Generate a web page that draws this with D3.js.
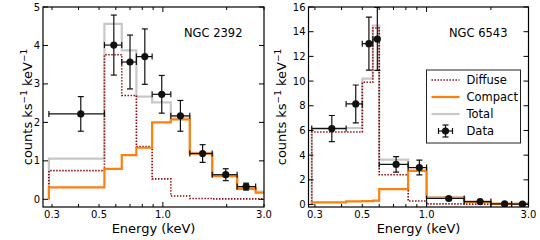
<html><head>
<title>NGC 2392 / NGC 6543 spectra</title>
<script src="https://d3js.org/d3.v7.min.js" charset="utf-8"></script>
<style>
body { margin: 0; background: white; font-family: "DejaVu Sans", sans-serif; }
.frame { fill: none; stroke: black; stroke-width: 1.2; }
.tick { stroke: black; stroke-width: 1; }
.ticklab { font-size: 10px; fill: black; }
.axlab { font-size: 13px; fill: black; }
</style>
</head>
<body>
<div id="chart"></div>
<script>
// NGC 2392 model bins (keV) and model values
var ngc2392_edges   = [0.29, 0.53, 0.64, 0.75, 0.89, 1.09, 1.34, 1.71, 2.24, 2.74, 3.3];
var ngc2392_total   = [1.06, 4.56, 3.87, 2.67, 2.52, 2.15, 1.21, 0.62, 0.30, 0.20];
var ngc2392_diffuse = [0.745, 3.76, 2.70, 1.37, 0.53, 0.085, 0.02, 0.01, 0.01, 0.01];
var ngc2392_compact = [0.31, 0.79, 1.15, 1.34, 2.00, 2.08, 1.19, 0.60, 0.27, 0.17];
// NGC 2392 data points
var ngc2392_x    = [0.41, 0.587, 0.70, 0.822, 0.988, 1.21, 1.54, 1.98, 2.47];
var ngc2392_xlo  = [0.29, 0.53, 0.64, 0.75, 0.89, 1.09, 1.34, 1.71, 2.24];
var ngc2392_xhi  = [0.53, 0.64, 0.75, 0.89, 1.09, 1.34, 1.71, 2.24, 2.74];
var ngc2392_y    = [2.22, 4.01, 3.57, 3.71, 2.73, 2.17, 1.19, 0.64, 0.33];
var ngc2392_yerr = [0.45, 0.78, 0.70, 0.72, 0.49, 0.40, 0.23, 0.155, 0.09];

// NGC 6543 model bins and values
var ngc6543_edges   = [0.29, 0.5, 0.56, 0.6, 0.82, 1.0, 1.5, 2.0, 3.3];
var ngc6543_total   = [6.2, 10.2, 14.5, 3.63, 2.95, 0.6, 0.25, 0.08];
var ngc6543_diffuse = [5.88, 9.9, 14.3, 2.41, 0.28, 0.05, 0.03, 0.02];
var ngc6543_cedges  = [0.29, 0.42, 0.5, 0.56, 0.6, 0.82, 1.0, 1.5, 2.0, 3.3];
var ngc6543_compact = [0.17, 0.25, 0.28, 0.32, 1.25, 2.72, 0.55, 0.2, 0.05];
// NGC 6543 data points
var ngc6543_x    = [0.36, 0.466, 0.537, 0.588, 0.72, 0.925, 1.27, 1.78, 2.32, 2.81];
var ngc6543_xlo  = [0.29, 0.42, 0.5, 0.56, 0.6, 0.82, 1.0, 1.5, 2.0, 2.5];
var ngc6543_xhi  = [0.42, 0.5, 0.56, 0.6, 0.82, 1.0, 1.5, 2.0, 2.5, 3.0];
var ngc6543_y    = [6.15, 8.15, 13.03, 13.41, 3.25, 3.0, 0.49, 0.24, 0.05, 0.03];
var ngc6543_yerr = [1.06, 1.53, 2.15, 2.55, 0.63, 0.6, 0.1, 0.07, 0.04, 0.03];

// axis ticks
var x_minor = [0.3, 0.4, 0.5, 0.6, 0.7, 0.8, 0.9, 2.0, 3.0];
var x_major = [1.0];
var x_labels = [0.3, 0.5, 1.0, 3.0];
var y_ticks_2392 = [0, 1, 2, 3, 4, 5];
var y_ticks_6543 = [0, 2, 4, 6, 8, 10, 12, 14, 16];

var legend_names = ["Diffuse", "Compact", "Total", "Data"];

var col_diffuse = "#8b0000", col_compact = "#ff7f0e", col_total = "#c8c8c8", col_data = "#111";

var svg = d3.select("#chart").append("svg")
  .attr("width", 540).attr("height", 240);

// step histogram path from edges + values, starting/ending at 0
function stepLine(edges, vals, xS, yS) {
  var pts = [[xS(edges[0]), yS(0)]];
  for (var i = 0; i < vals.length; i++) {
    pts.push([xS(edges[i]), yS(vals[i])]);
    pts.push([xS(edges[i+1]), yS(vals[i])]);
  }
  pts.push([xS(edges[edges.length-1]), yS(0)]);
  return d3.line()(pts);
}

function errorbars(g, xS, yS, x, xlo, xhi, y, yerr) {
  var cap = 3;
  for (var i = 0; i < x.length; i++) {
    var px = xS(x[i]), py = yS(y[i]);
    var e = g.append("g").style("stroke", col_data).style("stroke-width", 1.2);
    e.append("line").attr("x1", xS(xlo[i])).attr("x2", xS(xhi[i])).attr("y1", py).attr("y2", py);
    e.append("line").attr("x1", xS(xlo[i])).attr("x2", xS(xlo[i])).attr("y1", py-cap).attr("y2", py+cap);
    e.append("line").attr("x1", xS(xhi[i])).attr("x2", xS(xhi[i])).attr("y1", py-cap).attr("y2", py+cap);
    var ylo = yS(y[i]-yerr[i]), yhi = yS(y[i]+yerr[i]);
    e.append("line").attr("x1", px).attr("x2", px).attr("y1", ylo).attr("y2", yhi);
    e.append("line").attr("x1", px-cap).attr("x2", px+cap).attr("y1", ylo).attr("y2", ylo);
    e.append("line").attr("x1", px-cap).attr("x2", px+cap).attr("y1", yhi).attr("y2", yhi);
    g.append("circle").attr("cx", px).attr("cy", py).attr("r", 3.6).style("fill", col_data);
  }
}

function drawPanel(p) {
  var w = p.width, h = 200;
  var xS = d3.scaleLog().domain(p.xdom).range([0, w]);
  var yS = d3.scaleLinear().domain(p.ydom).range([h, 0]);
  var g = svg.append("g").attr("transform", "translate(" + p.left + ",7)");

  g.append("clipPath").attr("id", "clip" + p.id)
    .append("rect").attr("width", w).attr("height", h);
  var plot = g.append("g").attr("clip-path", "url(#clip" + p.id + ")");

  plot.append("path").attr("d", stepLine(p.edges, p.total, xS, yS))
    .style("fill", "none").style("stroke", col_total).style("stroke-width", 2.2);
  plot.append("path").attr("d", stepLine(p.edges, p.diffuse, xS, yS))
    .style("fill", "none").style("stroke", col_diffuse).style("stroke-width", 1.6)
    .style("stroke-dasharray", "1.4,1.6");
  plot.append("path").attr("d", stepLine(p.cedges, p.compact, xS, yS))
    .style("fill", "none").style("stroke", col_compact).style("stroke-width", 2.2);
  errorbars(plot, xS, yS, p.x, p.xlo, p.xhi, p.y, p.yerr);

  g.append("rect").attr("class", "frame").attr("width", w).attr("height", h);

  // x ticks, inside, top and bottom
  x_minor.concat(x_major).forEach(function(t) {
    var len = x_major.indexOf(t) >= 0 ? 5 : 3;
    g.append("line").attr("class", "tick").attr("x1", xS(t)).attr("x2", xS(t)).attr("y1", h).attr("y2", h-len);
    g.append("line").attr("class", "tick").attr("x1", xS(t)).attr("x2", xS(t)).attr("y1", 0).attr("y2", len);
  });
  x_labels.forEach(function(t) {
    g.append("text").attr("class", "ticklab").attr("x", xS(t)).attr("y", h+11)
      .attr("text-anchor", "middle").text(d3.format(".1f")(t));
  });
  // y ticks, inside, left and right
  p.yticks.forEach(function(t) {
    g.append("line").attr("class", "tick").attr("x1", 0).attr("x2", 5).attr("y1", yS(t)).attr("y2", yS(t));
    g.append("line").attr("class", "tick").attr("x1", w).attr("x2", w-5).attr("y1", yS(t)).attr("y2", yS(t));
    g.append("text").attr("class", "ticklab").attr("x", -3).attr("y", yS(t)).attr("dy", "0.35em")
      .attr("text-anchor", "end").text(t);
  });

  g.append("text").attr("class", "axlab").attr("x", w/2).attr("y", 226)
    .attr("text-anchor", "middle").text("Energy (keV)");

  var yl = g.append("text").attr("class", "axlab")
    .attr("transform", "translate(" + p.ylabx + "," + (h/2) + ") rotate(-90)")
    .attr("text-anchor", "middle");
  yl.append("tspan").text("counts ks");
  yl.append("tspan").attr("dy", -5).style("font-size", "9px").text("\u22121");
  yl.append("tspan").attr("dy", 5).text(" keV");
  yl.append("tspan").attr("dy", -5).style("font-size", "9px").text("\u22121");

  g.append("text").attr("x", p.namex).attr("y", 30).style("font-size", "11.5px").text(p.name);
  return {g: g, xS: xS, yS: yS};
}

drawPanel({id: 1, left: 43, width: 221, xdom: [0.272, 3.0], ydom: [-0.2, 5],
  edges: ngc2392_edges, cedges: ngc2392_edges, total: ngc2392_total, diffuse: ngc2392_diffuse,
  compact: ngc2392_compact, x: ngc2392_x, xlo: ngc2392_xlo, xhi: ngc2392_xhi,
  y: ngc2392_y, yerr: ngc2392_yerr, yticks: y_ticks_2392, ylabx: -11, namex: 141, name: "NGC 2392"});

var right = drawPanel({id: 2, left: 308.5, width: 220, xdom: [0.28, 3.0], ydom: [-0.2, 16],
  edges: ngc6543_edges, cedges: ngc6543_cedges, total: ngc6543_total, diffuse: ngc6543_diffuse,
  compact: ngc6543_compact, x: ngc6543_x, xlo: ngc6543_xlo, xhi: ngc6543_xhi,
  y: ngc6543_y, yerr: ngc6543_yerr, yticks: y_ticks_6543, ylabx: -23, namex: 140.5, name: "NGC 6543"});

// legend in right panel
var lg = right.g.append("g").attr("transform", "translate(118,63)");
lg.append("rect").attr("width", 94).attr("height", 73)
  .style("fill", "white").style("stroke", "#222").style("stroke-width", 1);
var styles = [
  {stroke: col_diffuse, w: 1.6, dash: "1.4,1.6"},
  {stroke: col_compact, w: 2.2, dash: null},
  {stroke: col_total, w: 2.2, dash: null}
];
legend_names.forEach(function(name, i) {
  var yy = 10 + i * 17;
  if (i < 3) {
    lg.append("line").attr("x1", 5).attr("x2", 33).attr("y1", yy).attr("y2", yy)
      .style("stroke", styles[i].stroke).style("stroke-width", styles[i].w)
      .style("stroke-dasharray", styles[i].dash);
  } else {
    var e = lg.append("g").style("stroke", col_data).style("stroke-width", 1.2);
    e.append("line").attr("x1", 12).attr("x2", 26).attr("y1", yy).attr("y2", yy);
    e.append("line").attr("x1", 19).attr("x2", 19).attr("y1", yy-6).attr("y2", yy+6);
    e.append("line").attr("x1", 16).attr("x2", 22).attr("y1", yy-6).attr("y2", yy-6);
    e.append("line").attr("x1", 16).attr("x2", 22).attr("y1", yy+6).attr("y2", yy+6);
    e.append("line").attr("x1", 12).attr("x2", 12).attr("y1", yy-3).attr("y2", yy+3);
    e.append("line").attr("x1", 26).attr("x2", 26).attr("y1", yy-3).attr("y2", yy+3);
    lg.append("circle").attr("cx", 19).attr("cy", yy).attr("r", 3.6).style("fill", col_data);
  }
  lg.append("text").attr("x", 40).attr("y", yy).attr("dy", "0.35em")
    .style("font-size", "11.5px").text(name);
});
</script>
</body></html>
